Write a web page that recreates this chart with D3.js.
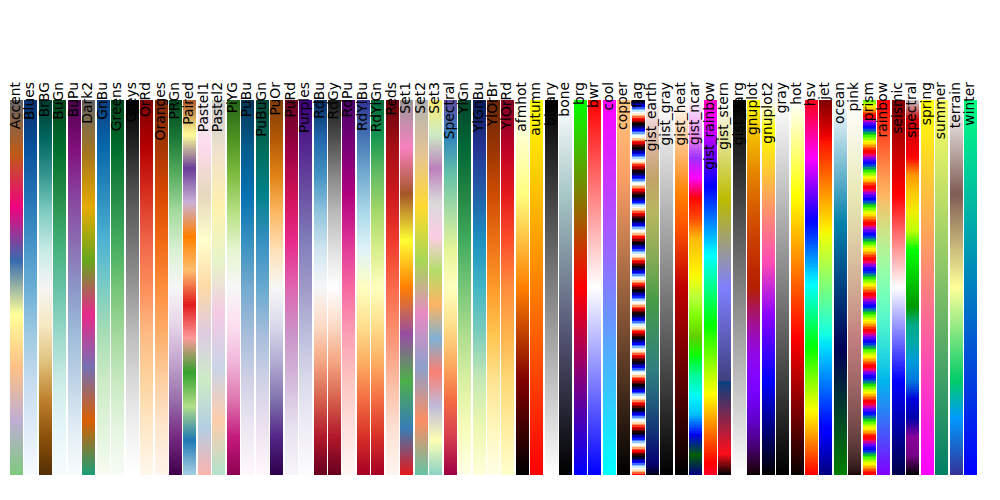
<!DOCTYPE html>
<html><head><meta charset="utf-8">
<script src="https://cdn.jsdelivr.net/npm/d3@7"></script>
<style>body{margin:0;background:#fff}</style>
</head><body>
<svg id="chart" width="1000" height="500"></svg>
<script>
// ---- data ----
const mapNames = ["Accent","Blues","BrBG","BuGn","BuPu","Dark2","GnBu","Greens","Greys","OrRd","Oranges","PRGn","Paired","Pastel1","Pastel2","PiYG","PuBu","PuBuGn","PuOr","PuRd","Purples","RdBu","RdGy","RdPu","RdYlBu","RdYlGn","Reds","Set1","Set2","Set3","Spectral","YlGn","YlGnBu","YlOrBr","YlOrRd","afmhot","autumn","binary","bone","brg","bwr","cool","copper","flag","gist_earth","gist_gray","gist_heat","gist_ncar","gist_rainbow","gist_stern","gist_yarg","gnuplot","gnuplot2","gray","hot","hsv","jet","ocean","pink","prism","rainbow","seismic","spectral","spring","summer","terrain","winter"];
const nSamples = 256;
const sampleValues = d3.range(nSamples).map(i => i / (nSamples - 1)); // np.linspace(0,1,256)

// ColorBrewer based colormaps (linearly interpolated, as in matplotlib)
const brewerLists = {
  Accent: d3.schemeAccent, Blues: d3.schemeBlues[9], BrBG: d3.schemeBrBG[11], BuGn: d3.schemeBuGn[9],
  BuPu: d3.schemeBuPu[9], Dark2: d3.schemeDark2, GnBu: d3.schemeGnBu[9], Greens: d3.schemeGreens[9],
  Greys: d3.schemeGreys[9], OrRd: d3.schemeOrRd[9], Oranges: d3.schemeOranges[9], PRGn: d3.schemePRGn[11],
  Paired: d3.schemePaired, Pastel1: d3.schemePastel1, Pastel2: d3.schemePastel2, PiYG: d3.schemePiYG[11],
  PuBu: d3.schemePuBu[9], PuBuGn: d3.schemePuBuGn[9], PuOr: d3.schemePuOr[11], PuRd: d3.schemePuRd[9],
  Purples: d3.schemePurples[9], RdBu: d3.schemeRdBu[11], RdGy: d3.schemeRdGy[11], RdPu: d3.schemeRdPu[9],
  RdYlBu: d3.schemeRdYlBu[11], RdYlGn: d3.schemeRdYlGn[11], Reds: d3.schemeReds[9], Set1: d3.schemeSet1,
  Set2: d3.schemeSet2, Set3: d3.schemeSet3, Spectral: d3.schemeSpectral[11], YlGn: d3.schemeYlGn[9],
  YlGnBu: d3.schemeYlGnBu[9], YlOrBr: d3.schemeYlOrBr[9], YlOrRd: d3.schemeYlOrRd[9]
};

// segment-data colormaps: [position, value] per channel
const segMaps = {
  bone: {r:[[0,0],[0.746032,0.652778],[1,1]], g:[[0,0],[0.365079,0.319444],[0.746032,0.777778],[1,1]], b:[[0,0],[0.365079,0.444444],[1,1]]},
  brg: {r:[[0,0],[0.5,1],[1,0]], g:[[0,0],[0.5,0],[1,1]], b:[[0,1],[0.5,0],[1,0]]},
  bwr: {r:[[0,0],[0.5,1],[1,1]], g:[[0,0],[0.5,1],[1,0]], b:[[0,1],[0.5,1],[1,0]]},
  copper: {r:[[0,0],[0.809524,1],[1,1]], g:[[0,0],[1,0.7812]], b:[[0,0],[1,0.4975]]},
  gist_earth: {
    r:[[0,0],[0.2824,0.1882],[0.4588,0.2714],[0.5490,0.4719],[0.6980,0.7176],[0.7882,0.7553],[1,0.9922]],
    g:[[0,0],[0.0275,0],[0.1098,0.1893],[0.1647,0.3035],[0.2078,0.3841],[0.2824,0.5020],[0.5216,0.6397],[0.6980,0.7171],[0.7882,0.6392],[0.8157,0.6549],[0.8667,0.6991],[0.8980,0.7430],[0.9412,0.8275],[0.9647,0.8816],[1,0.9843]],
    b:[[0,0],[0.0039,0.1684],[0.0078,0.2212],[0.0275,0.4329],[0.0314,0.4549],[0.2824,0.5004],[0.4667,0.2748],[0.5451,0.3205],[0.7843,0.3961],[0.8941,0.6651],[1,0.9843]]},
  gist_ncar: {
    r:[[0,0],[0.3098,0],[0.3725,0.3993],[0.4235,0.5003],[0.5333,1],[0.7922,1],[0.8471,0.6218],[0.8980,0.9235],[1,0.9961]],
    g:[[0,0],[0.0510,0.3722],[0.1059,0],[0.1569,0.7202],[0.1608,0.7537],[0.1647,0.7752],[0.2157,1],[0.2588,0.9804],[0.2706,0.9804],[0.3176,1],[0.3686,0.8081],[0.4275,1],[0.5216,1],[0.6314,0.7292],[0.6863,0.2796],[0.7451,0],[0.7922,0],[0.8431,0.1753],[0.8980,0.5],[1,0.9725]],
    b:[[0,0.5020],[0.0510,0.0222],[0.1098,1],[0.2039,1],[0.2627,0.6145],[0.3216,0],[0.4157,0],[0.4745,0.2342],[0.5333,0],[0.5804,0],[0.6314,0.0549],[0.6902,0],[0.7373,0],[0.7922,0.9738],[0.8,1],[0.8431,1],[0.8980,0.9341],[1,0.9961]]},
  gist_rainbow: {
    r:[[0,1],[0.03,1],[0.215,1],[0.4,0],[0.586,0],[0.77,0],[0.954,1],[1,1]],
    g:[[0,0],[0.03,0],[0.215,1],[0.4,1],[0.586,1],[0.77,0],[0.954,0],[1,0]],
    b:[[0,0.16],[0.03,0],[0.215,0],[0.4,0],[0.586,1],[0.77,1],[0.954,1],[1,0.75]]},
  gist_stern: {r:[[0,0],[0.0547,1],[0.25,0.027],[0.25,0.25],[1,1]], g:[[0,0],[1,1]], b:[[0,0],[0.5,1],[0.735,0],[1,1]]},
  hot: {r:[[0,0.0416],[0.365079,1],[1,1]], g:[[0,0],[0.365079,0],[0.746032,1],[1,1]], b:[[0,0],[0.746032,0],[1,1]]},
  hsv: {
    r:[[0,1],[0.15873,1],[0.174603,0.96875],[0.333333,0.03125],[0.349206,0],[0.666667,0],[0.68254,0.03125],[0.84127,0.96875],[0.857143,1],[1,1]],
    g:[[0,0],[0.15873,0.9375],[0.174603,1],[0.507937,1],[0.666667,0.0625],[0.68254,0],[1,0]],
    b:[[0,0],[0.333333,0],[0.349206,0.0625],[0.507937,1],[0.84127,1],[0.857143,0.9375],[1,0.09375]]},
  jet: {r:[[0,0],[0.35,0],[0.66,1],[0.89,1],[1,0.5]], g:[[0,0],[0.125,0],[0.375,1],[0.64,1],[0.91,0],[1,0]], b:[[0,0.5],[0.11,1],[0.34,1],[0.65,0],[1,0]]},
  seismic: {r:[[0,0],[0.25,0],[0.5,1],[0.75,1],[1,0.5]], g:[[0,0],[0.25,0],[0.5,1],[0.75,0],[1,0]], b:[[0,0.3],[0.25,1],[0.5,1],[0.75,0],[1,0]]},
  spectral: {
    r:[[0,0],[0.05,0.4667],[0.10,0.5333],[0.15,0],[0.60,0],[0.65,0.7333],[0.70,0.9333],[0.75,1],[0.85,1],[0.90,0.8667],[0.95,0.8],[1,0.8]],
    g:[[0,0],[0.20,0],[0.25,0.4667],[0.30,0.6],[0.35,0.6667],[0.40,0.6667],[0.45,0.6],[0.50,0.7333],[0.55,0.8667],[0.60,1],[0.65,1],[0.70,0.9333],[0.75,0.8],[0.80,0.6],[0.85,0],[0.95,0],[1,0.8]],
    b:[[0,0],[0.05,0.5333],[0.10,0.6],[0.15,0.6667],[0.20,0.8667],[0.30,0.8667],[0.35,0.6667],[0.40,0.5333],[0.45,0],[0.95,0],[1,0.8]]},
  terrain: {
    r:[[0,0.2],[0.15,0],[0.25,0],[0.5,1],[0.75,0.5],[1,1]],
    g:[[0,0.2],[0.15,0.6],[0.25,0.8],[0.5,1],[0.75,0.36],[1,1]],
    b:[[0,0.6],[0.15,1],[0.25,0.4],[0.5,0.6],[0.75,0.33],[1,1]]}
};

// analytic colormaps (gnuplot-style channel functions)
const S = Math.sin, C = Math.cos, PI = Math.PI;
const fnMaps = {
  afmhot: [x => 2*x, x => 2*x - 0.5, x => 2*x - 1],
  autumn: [x => 1, x => x, x => 0],
  binary: [x => 1 - x, x => 1 - x, x => 1 - x],
  cool: [x => x, x => 1 - x, x => 1],
  flag: [x => 0.75*S((x*31.5 + 0.25)*PI) + 0.5, x => S(x*31.5*PI), x => 0.75*S((x*31.5 - 0.25)*PI) + 0.5],
  gist_gray: [x => x, x => x, x => x],
  gist_heat: [x => 1.5*x, x => 2*x - 1, x => 4*x - 3],
  gist_yarg: [x => 1 - x, x => 1 - x, x => 1 - x],
  gnuplot: [x => Math.sqrt(x), x => x*x*x, x => S(2*PI*x)],
  gnuplot2: [x => x/0.32 - 0.78125, x => 2*x - 0.84, x => x < 0.25 ? 4*x : (x < 0.92 ? -2*x + 1.84 : x/0.08 - 11.5)],
  gray: [x => x, x => x, x => x],
  ocean: [x => 3*x - 2, x => Math.abs((3*x - 1)/2), x => x],
  prism: [x => 0.75*S((x*20.9 + 0.25)*PI) + 0.67, x => 0.75*S((x*20.9 - 0.25)*PI) + 0.33, x => -1.1*S(x*20.9*PI)],
  rainbow: [x => Math.abs(2*x - 0.5), x => S(PI*x), x => C(PI*x/2)],
  spring: [x => 1, x => x, x => 1 - x],
  summer: [x => x, x => 0.5 + x/2, x => 0.4],
  winter: [x => 0, x => x, x => 1 - x/2]
};

// ---- colormap evaluation ----
function seg(pts) {
  return t => {
    for (let k = 1; k < pts.length; k++) {
      if (t <= pts[k][0]) {
        const [x0, v0] = pts[k-1], [x1, v1] = pts[k];
        return x1 === x0 ? v1 : v0 + (v1 - v0) * (t - x0) / (x1 - x0);
      }
    }
    return pts[pts.length-1][1];
  };
}
const clip = v => Math.max(0, Math.min(1, v));
const toRgb = (r, g, b) => d3.rgb(clip(r)*255, clip(g)*255, clip(b)*255).toString();

function getMap(name) {
  if (brewerLists[name]) return d3.piecewise(d3.interpolateRgb, brewerLists[name]);
  if (segMaps[name]) {
    const m = segMaps[name], fr = seg(m.r), fg = seg(m.g), fb = seg(m.b);
    return t => toRgb(fr(t), fg(t), fb(t));
  }
  if (fnMaps[name]) {
    const [fr, fg, fb] = fnMaps[name];
    return t => toRgb(fr(t), fg(t), fb(t));
  }
  if (name === "pink") {
    const hr = seg(segMaps.hot.r), hg = seg(segMaps.hot.g), hb = seg(segMaps.hot.b);
    return t => toRgb(Math.sqrt((2*t + hr(t))/3), Math.sqrt((2*t + hg(t))/3), Math.sqrt((2*t + hb(t))/3));
  }
  return t => toRgb(t, t, t);
}

// ---- layout ----
const svg = d3.select("#chart");
const x = d3.scaleBand().domain(mapNames).range([10, 977]).paddingInner(0.1).paddingOuter(0);
const y = d3.scaleLinear().domain([0, 1]).range([475, 100]);
const off = d3.scaleLinear().domain([0, nSamples]).range([0, 1]);

const defs = svg.append("defs");
mapNames.forEach((name, i) => {
  const cm = getMap(name);
  const grad = defs.append("linearGradient")
    .attr("id", "cm" + i).attr("x1", 0).attr("y1", 1).attr("x2", 0).attr("y2", 0);
  sampleValues.forEach((v, j) => {
    const col = cm(v);
    grad.append("stop").attr("offset", off(j)).attr("stop-color", col);
    grad.append("stop").attr("offset", off(j + 1)).attr("stop-color", col);
  });
});

svg.append("g").selectAll("rect").data(mapNames).join("rect")
  .attr("x", d => Math.round(x(d)))
  .attr("y", y(1))
  .attr("width", 13)
  .attr("height", y(0) - y(1))
  .attr("fill", (d, i) => `url(#cm${i})`);

svg.append("g").selectAll("text").data(mapNames).join("text")
  .attr("transform", d => `translate(${Math.round(x(d)) + 6.5 + 3.8},82) rotate(-90)`)
  .attr("text-anchor", "end")
  .attr("font-family", "DejaVu Sans")
  .attr("font-size", "13.89px")
  .attr("fill", "#000")
  .text(d => d);
</script>
</body></html>
